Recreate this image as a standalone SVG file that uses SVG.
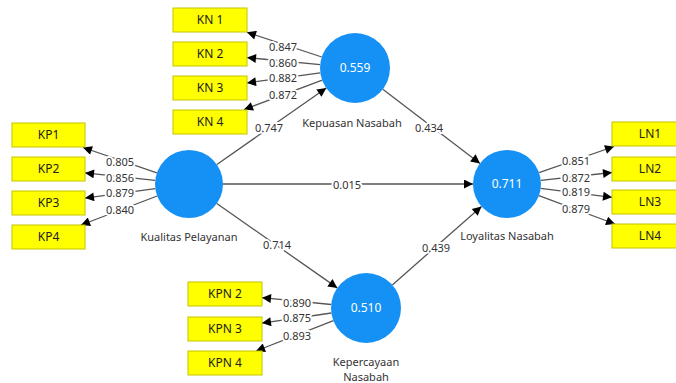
<svg xmlns="http://www.w3.org/2000/svg" width="676" height="383" viewBox="0 0 676 383">
<defs>
<marker id="ah" viewBox="0 0 10 10" refX="10" refY="5" markerWidth="11" markerHeight="9" markerUnits="userSpaceOnUse" orient="auto">
<path d="M0,0 L10,5 L0,10 z" fill="#000"/>
</marker>
<style>
.c line{stroke:#555;stroke-width:1.3;marker-end:url(#ah)}
.box{fill:#ffff00;stroke:#c4c400;stroke-width:1}
.bt{font-family:"Noto Sans","Open Sans",sans-serif;font-size:12px;fill:#222;text-anchor:middle}
.lv{fill:#1590f5}
.lvt{font-family:"Noto Sans","Open Sans",sans-serif;font-size:12px;fill:#fff;text-anchor:middle}
.nl{font-family:"Noto Sans","Open Sans",sans-serif;font-size:11px;fill:#333;text-anchor:middle}
.el{font-family:"Noto Sans","Open Sans",sans-serif;font-size:11px;fill:#333;text-anchor:middle;stroke:#fff;stroke-width:4;paint-order:stroke;stroke-linejoin:round}
</style>
</defs>
<rect width="676" height="383" fill="#fff"/>
<g id="connectors" class="c">
<line x1="321.8" y1="57" x2="247" y2="32.3"/>
<line x1="320.2" y1="64.6" x2="247" y2="57.6"/>
<line x1="320.3" y1="72.8" x2="247" y2="82.9"/>
<line x1="322.2" y1="80.2" x2="244" y2="109.5"/>
<line x1="156.9" y1="172.8" x2="83" y2="147.5"/>
<line x1="155.2" y1="180.4" x2="85" y2="172.9"/>
<line x1="155.3" y1="188.6" x2="85" y2="198.1"/>
<line x1="157.2" y1="196" x2="81" y2="225"/>
<line x1="539.1" y1="172.7" x2="614" y2="146.5"/>
<line x1="540.8" y1="180.3" x2="612" y2="172.5"/>
<line x1="540.7" y1="188.3" x2="612" y2="197.3"/>
<line x1="538.9" y1="195.7" x2="615" y2="224"/>
<line x1="331.2" y1="304.5" x2="262" y2="297.7"/>
<line x1="331.4" y1="313" x2="262" y2="323.1"/>
<line x1="333.4" y1="320.7" x2="256" y2="351"/>
<line x1="216.9" y1="164.5" x2="326.3" y2="88"/>
<line x1="223" y1="184" x2="473" y2="184"/>
<line x1="216.8" y1="203.5" x2="337.3" y2="287.9"/>
<line x1="382.8" y1="89.2" x2="480" y2="163.4"/>
<line x1="392.3" y1="284.9" x2="481.5" y2="206.5"/>
</g>
<g id="edge-labels">
<text class="el" x="283" y="51">0.847</text>
<text class="el" x="283" y="67">0.860</text>
<text class="el" x="283" y="82">0.882</text>
<text class="el" x="283" y="99">0.872</text>
<text class="el" x="120" y="166">0.805</text>
<text class="el" x="120" y="182">0.856</text>
<text class="el" x="120" y="197">0.879</text>
<text class="el" x="120" y="214">0.840</text>
<text class="el" x="576" y="165">0.851</text>
<text class="el" x="576" y="182">0.872</text>
<text class="el" x="576" y="196">0.819</text>
<text class="el" x="576" y="213">0.879</text>
<text class="el" x="297" y="307">0.890</text>
<text class="el" x="297" y="322">0.875</text>
<text class="el" x="297" y="340">0.893</text>
<text class="el" x="269" y="132">0.747</text>
<text class="el" x="347" y="189">0.015</text>
<text class="el" x="277" y="249">0.714</text>
<text class="el" x="429" y="132">0.434</text>
<text class="el" x="436" y="252">0.439</text>
</g>
<g id="KN1"><rect class="box" x="173" y="8" width="74" height="24"/><text class="bt" x="210" y="24">KN 1</text></g>
<g id="KN2"><rect class="box" x="173" y="42" width="74" height="24"/><text class="bt" x="210" y="58">KN 2</text></g>
<g id="KN3"><rect class="box" x="173" y="76" width="74" height="24"/><text class="bt" x="210" y="92">KN 3</text></g>
<g id="KN4"><rect class="box" x="173" y="110" width="74" height="24"/><text class="bt" x="210" y="126">KN 4</text></g>
<g id="KP1"><rect class="box" x="12" y="123" width="73" height="24"/><text class="bt" x="48.5" y="139">KP1</text></g>
<g id="KP2"><rect class="box" x="12" y="157" width="73" height="24"/><text class="bt" x="48.5" y="173">KP2</text></g>
<g id="KP3"><rect class="box" x="12" y="191" width="73" height="24"/><text class="bt" x="48.5" y="207">KP3</text></g>
<g id="KP4"><rect class="box" x="12" y="225" width="73" height="24"/><text class="bt" x="48.5" y="241">KP4</text></g>
<g id="LN1"><rect class="box" x="612" y="122" width="74" height="24"/><text class="bt" x="650" y="138">LN1</text></g>
<g id="LN2"><rect class="box" x="612" y="157" width="74" height="24"/><text class="bt" x="650" y="173">LN2</text></g>
<g id="LN3"><rect class="box" x="612" y="190" width="74" height="24"/><text class="bt" x="650" y="206">LN3</text></g>
<g id="LN4"><rect class="box" x="612" y="224" width="74" height="24"/><text class="bt" x="650" y="240">LN4</text></g>
<g id="KPN2"><rect class="box" x="188" y="282" width="74" height="24"/><text class="bt" x="225" y="298">KPN 2</text></g>
<g id="KPN3"><rect class="box" x="188" y="317" width="74" height="24"/><text class="bt" x="225" y="333">KPN 3</text></g>
<g id="KPN4"><rect class="box" x="188" y="351" width="74" height="24"/><text class="bt" x="225" y="367">KPN 4</text></g>
<g id="KepuasanNasabah"><circle class="lv" cx="355" cy="68" r="35"/><text class="lvt" x="355" y="72">0.559</text><text class="nl" x="352" y="127">Kepuasan Nasabah</text></g>
<g id="KualitasPelayanan"><circle class="lv" cx="189" cy="184" r="34"/><text class="nl" x="189" y="241">Kualitas Pelayanan</text></g>
<g id="LoyalitasNasabah"><circle class="lv" cx="507" cy="184" r="34"/><text class="lvt" x="507" y="188">0.711</text><text class="nl" x="507" y="240">Loyalitas Nasabah</text></g>
<g id="KepercayaanNasabah"><circle class="lv" cx="366" cy="308" r="35"/><text class="lvt" x="366" y="312">0.510</text><text class="nl" x="366" y="366">Kepercayaan</text><text class="nl" x="366" y="381">Nasabah</text></g>
</svg>
